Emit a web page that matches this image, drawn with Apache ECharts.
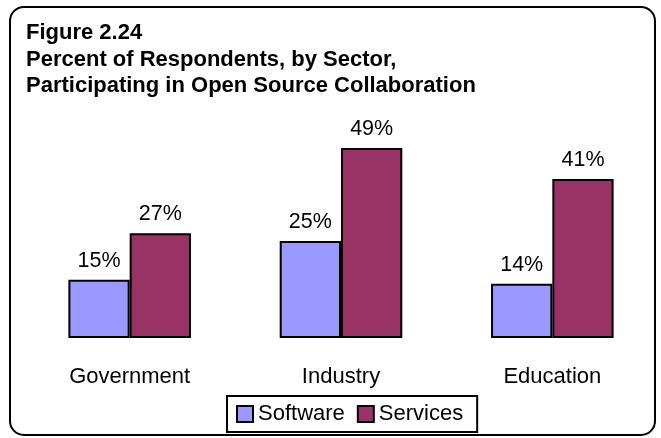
<!DOCTYPE html>
<html>
<head>
<meta charset="utf-8">
<script src="https://cdn.jsdelivr.net/npm/echarts@6/dist/echarts.min.js"></script>
<style>
  html, body { margin: 0; padding: 0; background: #fff; }
  #chart { width: 661px; height: 438px; }
</style>
</head>
<body>
<div id="chart"></div>
<script>
// Sector categories and participation shares (percent)
const sectors = ['Government', 'Industry', 'Education'];
const softwareShare = [15, 25, 14];
const servicesShare = [27, 49, 41];
const seriesNames = ['Software', 'Services'];
const titleLines = [
  'Figure 2.24',
  'Percent of Respondents, by Sector,',
  'Participating in Open Source Collaboration'
];

const FONT = '"Liberation Sans", Arial, sans-serif';
const chart = echarts.init(document.getElementById('chart'), null, { renderer: 'canvas' });

const labelStyle = {
  show: true,
  position: 'top',
  distance: 8,
  formatter: '{c}%',
  color: '#000',
  fontFamily: FONT,
  fontSize: 21.5
};

chart.setOption({
  animation: false,
  backgroundColor: '#fff',
  graphic: [
    {
      type: 'rect',
      shape: { x: 10, y: 7, width: 645, height: 428, r: 14 },
      style: { fill: 'none', stroke: '#000', lineWidth: 2 },
      z: 0
    },
    {
      type: 'text',
      left: 26,
      top: 20,
      style: {
        text: titleLines.join('\n'),
        font: 'bold 22px ' + FONT,
        lineHeight: 26.5,
        fill: '#000'
      }
    }
  ],
  grid: { left: 24, width: 634, top: 144, height: 194 },
  xAxis: {
    type: 'category',
    data: sectors,
    axisLine: { show: false },
    axisTick: { show: false },
    axisLabel: { color: '#000', fontFamily: FONT, fontSize: 22, margin: 28 }
  },
  yAxis: {
    type: 'value',
    min: 0,
    max: 50,
    show: false,
    splitLine: { show: false }
  },
  legend: {
    data: seriesNames,
    bottom: 6,
    left: 227,
    itemWidth: 16,
    itemHeight: 16,
    itemGap: 12,
    padding: [7, 14, 7, 9],
    borderColor: '#000',
    borderWidth: 2,
    textStyle: { color: '#000', fontFamily: FONT, fontSize: 22 },
    icon: 'rect'
  },
  series: [
    {
      name: seriesNames[0],
      type: 'bar',
      data: softwareShare,
      barGap: '0%',
      barCategoryGap: '42%',
      itemStyle: { color: '#9999FF', borderColor: '#000', borderWidth: 2 },
      label: labelStyle
    },
    {
      name: seriesNames[1],
      type: 'bar',
      data: servicesShare,
      itemStyle: { color: '#993366', borderColor: '#000', borderWidth: 2 },
      label: labelStyle
    }
  ]
});
</script>
</body>
</html>
